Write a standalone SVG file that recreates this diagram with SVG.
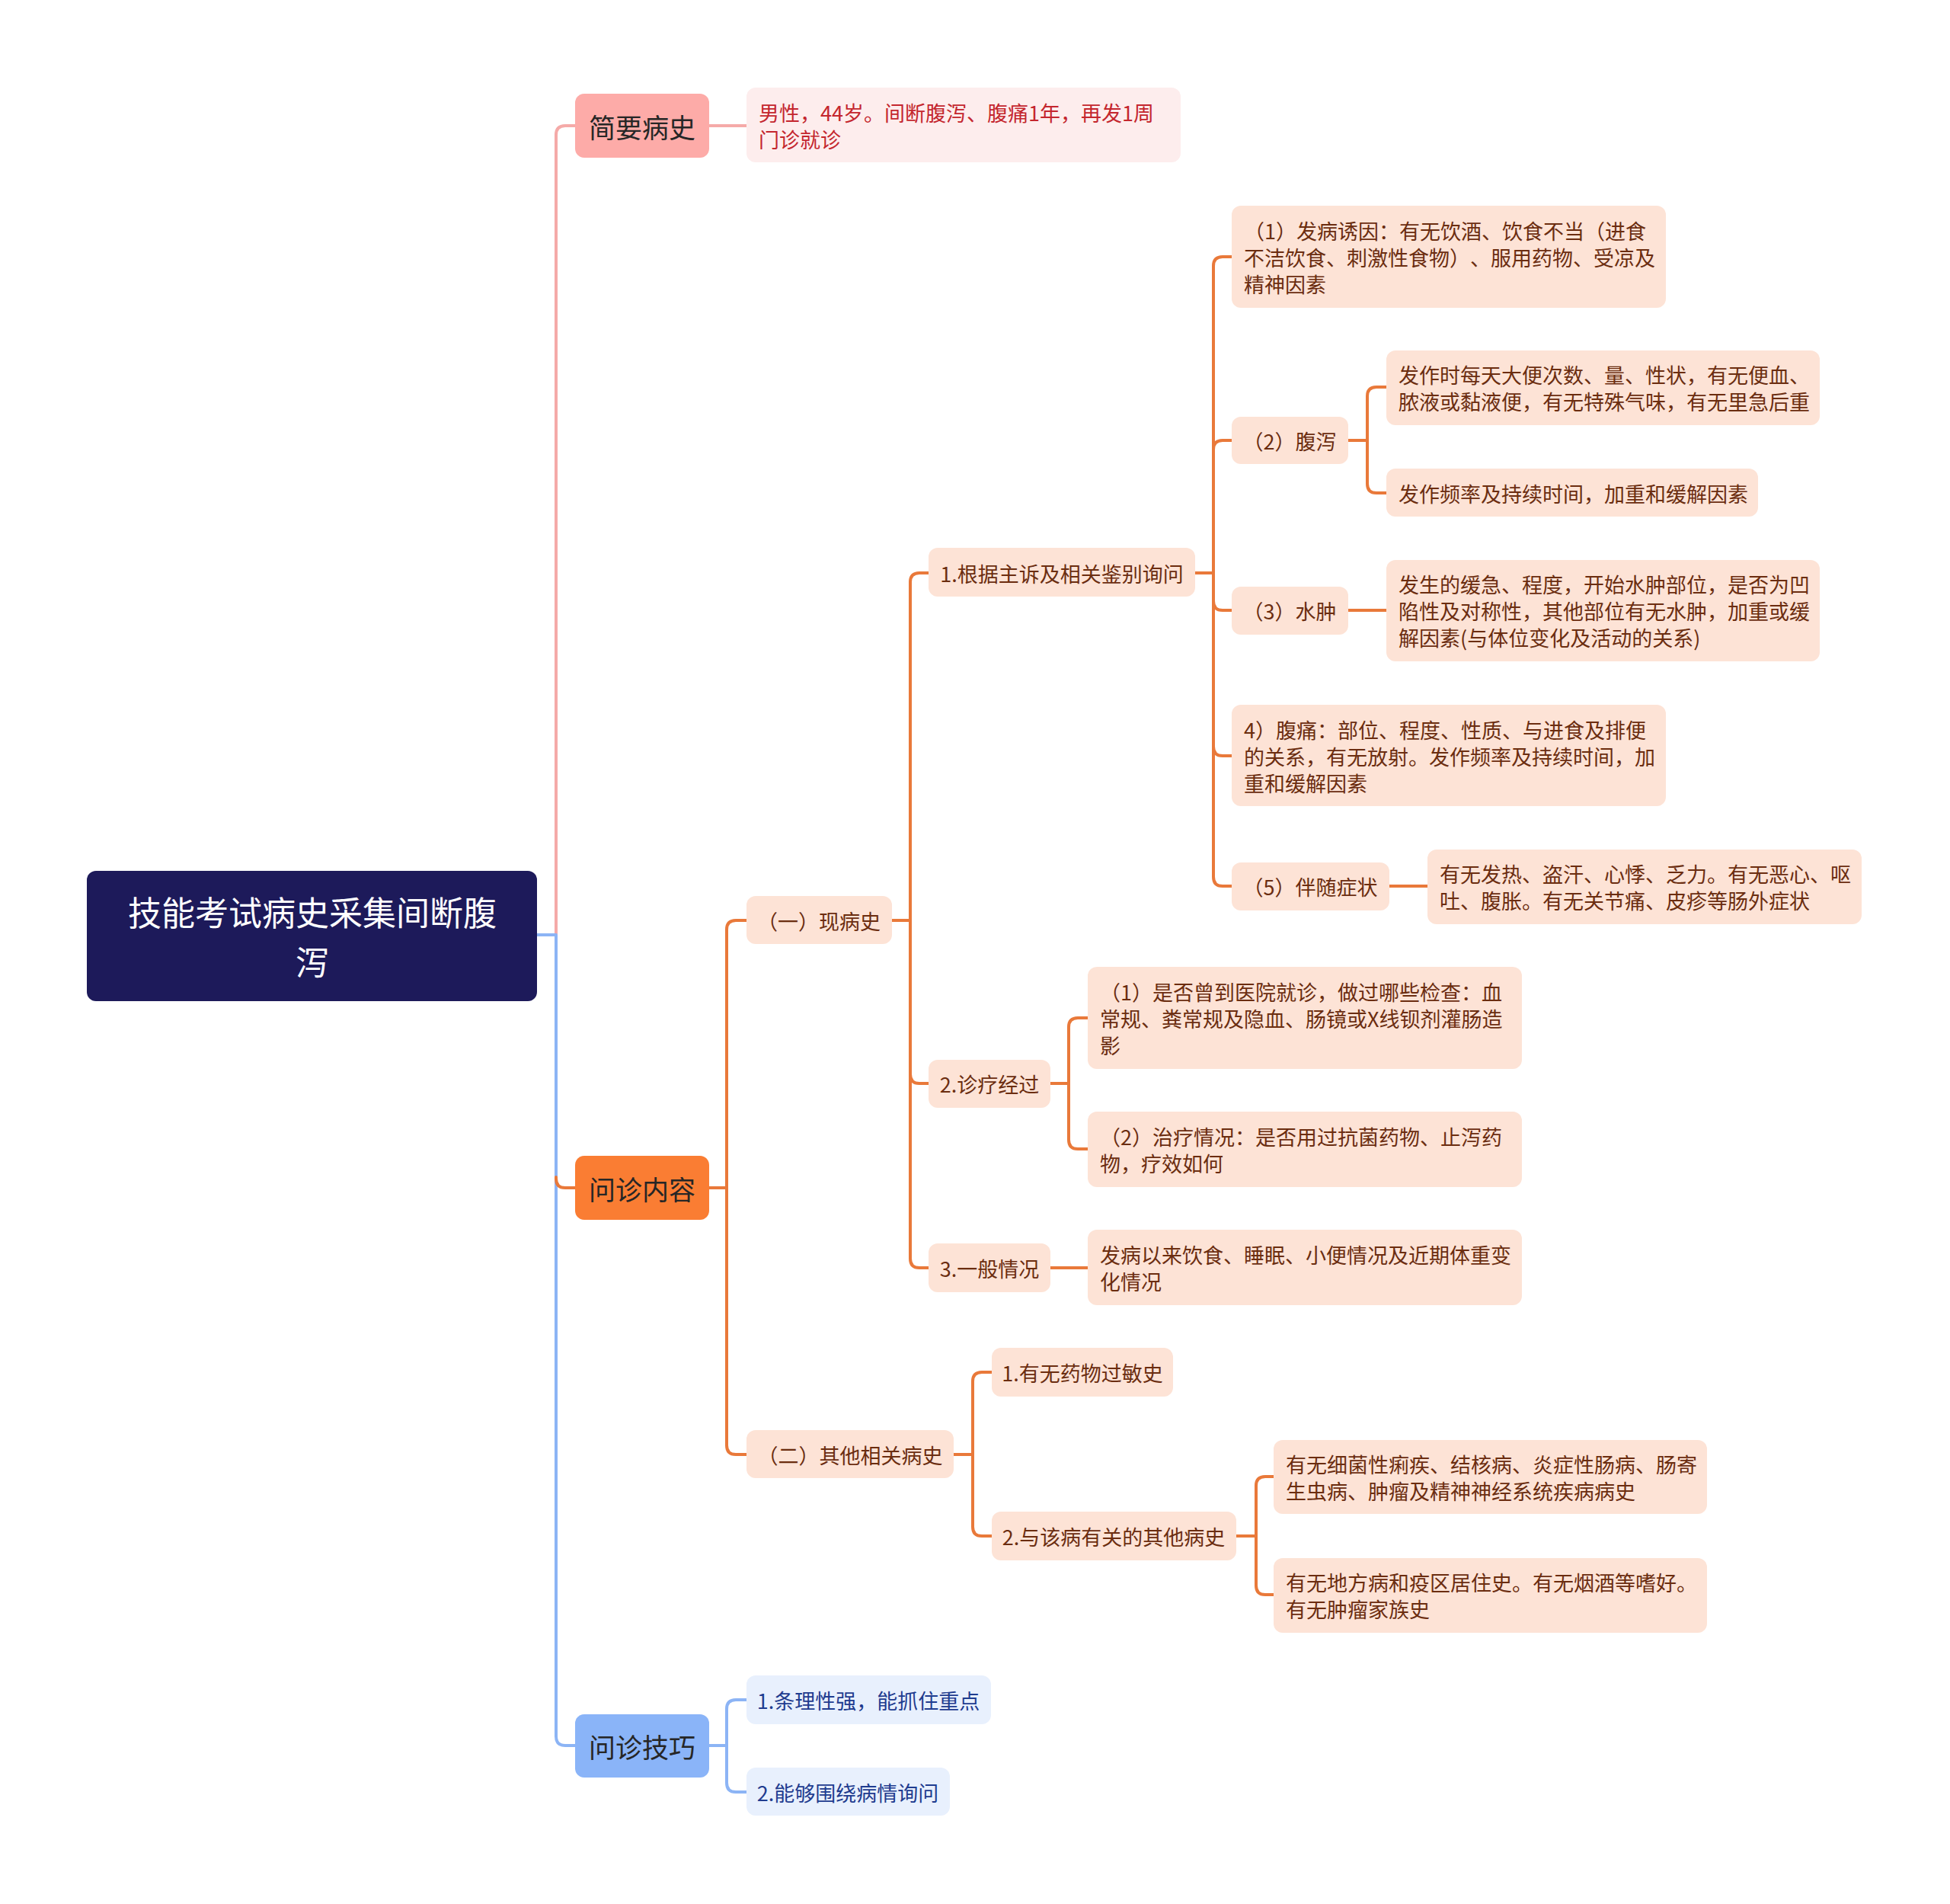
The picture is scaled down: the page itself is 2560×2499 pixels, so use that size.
<svg xmlns="http://www.w3.org/2000/svg" width="2560" height="2499" viewBox="0 0 2560 2499">
<style>
text{font-family:"Noto Sans CJK SC","Noto Sans",sans-serif;text-spacing-trim:space-all;font-feature-settings:"chws" 0,"halt" 0;}
.c{fill:none;stroke-width:4;stroke-linecap:round;stroke-linejoin:round;}
.co{stroke:#e9793a;}
.cp{stroke:#f5aaa8;}
.cb{stroke:#8cb4f5;}
.pe{fill:#fde3d6;}
.pt{font-size:27px;fill:#6b2d10;dominant-baseline:central;}
.l1{font-size:35px;fill:#262626;dominant-baseline:central;text-anchor:middle;}
.m{text-anchor:middle;}
.bt{font-size:27px;fill:#1f3c8f;dominant-baseline:central;}
.rt{font-size:27px;fill:#c4262e;dominant-baseline:central;}
.root{font-size:44px;fill:#ffffff;text-anchor:middle;dominant-baseline:central;}
</style>
<rect width="2560" height="2499" fill="#ffffff"/>

<g id="connectors">
  <path class="c cp" d="M730 1227 V177 Q730 165 742 165 H755"/>
  <path class="c cb" d="M705 1227 H730 V2279 Q730 2291 742 2291 H755"/>
  <path class="c co" d="M730 1545 V1547 Q730 1559 742 1559 H755"/>
  <path class="c cp" d="M931 165 H980"/>
  <path class="c co" d="M931 1559 H954 V1220 Q954 1208 966 1208 H980"/>
  <path class="c co" d="M931 1559 H954 V1897 Q954 1909 966 1909 H980"/>
  <path class="c cb" d="M931 2291 H954 V2243 Q954 2231 966 2231 H980"/>
  <path class="c cb" d="M931 2291 H954 V2340 Q954 2352 966 2352 H980"/>
  <path class="c co" d="M1171 1208 H1195 V764 Q1195 752 1207 752 H1219"/>
  <path class="c co" d="M1171 1208 H1195 V1410 Q1195 1422 1207 1422 H1219"/>
  <path class="c co" d="M1171 1208 H1195 V1652 Q1195 1664 1207 1664 H1219"/>
  <path class="c co" d="M1569 752 H1593 V349 Q1593 337 1605 337 H1617"/>
  <path class="c co" d="M1569 752 H1593 V590 Q1593 578 1605 578 H1617"/>
  <path class="c co" d="M1569 752 H1593 V789 Q1593 801 1605 801 H1617"/>
  <path class="c co" d="M1569 752 H1593 V980 Q1593 992 1605 992 H1617"/>
  <path class="c co" d="M1569 752 H1593 V1151 Q1593 1163 1605 1163 H1617"/>
  <path class="c co" d="M1770 578 H1795 V520 Q1795 508 1807 508 H1820"/>
  <path class="c co" d="M1770 578 H1795 V635 Q1795 647 1807 647 H1820"/>
  <path class="c co" d="M1770 801 H1820"/>
  <path class="c co" d="M1824 1163 H1874"/>
  <path class="c co" d="M1379 1422 H1403 V1348 Q1403 1336 1415 1336 H1428"/>
  <path class="c co" d="M1379 1422 H1403 V1496 Q1403 1508 1415 1508 H1428"/>
  <path class="c co" d="M1379 1664 H1428"/>
  <path class="c co" d="M1251 1909 H1277 V1813 Q1277 1801 1289 1801 H1302"/>
  <path class="c co" d="M1251 1909 H1277 V2004 Q1277 2016 1289 2016 H1302"/>
  <path class="c co" d="M1623 2016 H1649 V1950 Q1649 1938 1661 1938 H1672"/>
  <path class="c co" d="M1623 2016 H1649 V2081 Q1649 2093 1661 2093 H1672"/>
</g>

<g id="root">
  <rect x="114" y="1143" width="591" height="171" rx="12" fill="#1d1a5a"/>
  <text class="root" x="410" y="1196">技能考试病史采集间断腹</text>
  <text class="root" x="410" y="1261">泻</text>
</g>

<g id="n-jybs">
  <rect x="755" y="123" width="176" height="84" rx="12" fill="#fdaba8"/>
  <text class="l1" x="843" y="165">简要病史</text>
</g>
<g id="n-jybs-d">
  <rect x="980" y="115" width="570" height="98" rx="12" fill="#fdeded"/>
  <text class="rt" x="996" y="147">男性，44岁。间断腹泻、腹痛1年，再发1周</text>
  <text class="rt" x="996" y="182">门诊就诊</text>
</g>

<g id="n-wznr">
  <rect x="755" y="1517" width="176" height="84" rx="12" fill="#fa7d33"/>
  <text class="l1" x="843" y="1559">问诊内容</text>
</g>
<g id="n-wzjq">
  <rect x="755" y="2250" width="176" height="83" rx="12" fill="#8ab4f8"/>
  <text class="l1" x="843" y="2291">问诊技巧</text>
</g>

<g id="n-xbs">
  <rect class="pe" x="980" y="1176" width="191" height="63" rx="12"/>
  <text class="pt m" x="1075" y="1208">（一）现病史</text>
</g>
<g id="n-qt">
  <rect class="pe" x="980" y="1877" width="272" height="63" rx="12"/>
  <text class="pt m" x="1116" y="1909">（二）其他相关病史</text>
</g>

<g id="n-gj">
  <rect class="pe" x="1219" y="719" width="350" height="64" rx="12"/>
  <text class="pt m" x="1394" y="752">1.根据主诉及相关鉴别询问</text>
</g>
<g id="n-zl">
  <rect class="pe" x="1219" y="1391" width="160" height="63" rx="12"/>
  <text class="pt m" x="1299" y="1422">2.诊疗经过</text>
</g>
<g id="n-yb">
  <rect class="pe" x="1219" y="1632" width="160" height="64" rx="12"/>
  <text class="pt m" x="1299" y="1664">3.一般情况</text>
</g>

<g id="n-fbyy">
  <rect class="pe" x="1617" y="270" width="570" height="134" rx="12"/>
  <text class="pt" x="1633" y="302">（1）发病诱因：有无饮酒、饮食不当（进食</text>
  <text class="pt" x="1633" y="337">不洁饮食、刺激性食物）、服用药物、受凉及</text>
  <text class="pt" x="1633" y="372">精神因素</text>
</g>
<g id="n-fx">
  <rect class="pe" x="1617" y="547" width="153" height="62" rx="12"/>
  <text class="pt m" x="1693" y="578">（2）腹泻</text>
</g>
<g id="n-fx-a">
  <rect class="pe" x="1820" y="460" width="569" height="98" rx="12"/>
  <text class="pt" x="1836" y="491">发作时每天大便次数、量、性状，有无便血、</text>
  <text class="pt" x="1836" y="526">脓液或黏液便，有无特殊气味，有无里急后重</text>
</g>
<g id="n-fx-b">
  <rect class="pe" x="1820" y="615" width="488" height="63" rx="12"/>
  <text class="pt" x="1836" y="647">发作频率及持续时间，加重和缓解因素</text>
</g>
<g id="n-sz">
  <rect class="pe" x="1617" y="770" width="153" height="63" rx="12"/>
  <text class="pt m" x="1693" y="801">（3）水肿</text>
</g>
<g id="n-sz-d">
  <rect class="pe" x="1820" y="735" width="569" height="133" rx="12"/>
  <text class="pt" x="1836" y="766">发生的缓急、程度，开始水肿部位，是否为凹</text>
  <text class="pt" x="1836" y="801">陷性及对称性，其他部位有无水肿，加重或缓</text>
  <text class="pt" x="1836" y="836">解因素(与体位变化及活动的关系)</text>
</g>
<g id="n-ft">
  <rect class="pe" x="1617" y="925" width="570" height="133" rx="12"/>
  <text class="pt" x="1633" y="957">4）腹痛：部位、程度、性质、与进食及排便</text>
  <text class="pt" x="1633" y="992">的关系，有无放射。发作频率及持续时间，加</text>
  <text class="pt" x="1633" y="1027">重和缓解因素</text>
</g>
<g id="n-bs">
  <rect class="pe" x="1617" y="1132" width="207" height="63" rx="12"/>
  <text class="pt m" x="1720" y="1163">（5）伴随症状</text>
</g>
<g id="n-bs-d">
  <rect class="pe" x="1874" y="1115" width="570" height="98" rx="12"/>
  <text class="pt" x="1890" y="1146">有无发热、盗汗、心悸、乏力。有无恶心、呕</text>
  <text class="pt" x="1890" y="1181">吐、腹胀。有无关节痛、皮疹等肠外症状</text>
</g>

<g id="n-zl1">
  <rect class="pe" x="1428" y="1269" width="570" height="134" rx="12"/>
  <text class="pt" x="1444" y="1301">（1）是否曾到医院就诊，做过哪些检查：血</text>
  <text class="pt" x="1444" y="1336">常规、粪常规及隐血、肠镜或X线钡剂灌肠造</text>
  <text class="pt" x="1444" y="1371">影</text>
</g>
<g id="n-zl2">
  <rect class="pe" x="1428" y="1459" width="570" height="99" rx="12"/>
  <text class="pt" x="1444" y="1491">（2）治疗情况：是否用过抗菌药物、止泻药</text>
  <text class="pt" x="1444" y="1526">物，疗效如何</text>
</g>
<g id="n-yb-d">
  <rect class="pe" x="1428" y="1614" width="570" height="99" rx="12"/>
  <text class="pt" x="1444" y="1646">发病以来饮食、睡眠、小便情况及近期体重变</text>
  <text class="pt" x="1444" y="1681">化情况</text>
</g>

<g id="n-gm">
  <rect class="pe" x="1302" y="1769" width="238" height="64" rx="12"/>
  <text class="pt m" x="1421" y="1801">1.有无药物过敏史</text>
</g>
<g id="n-qtbs">
  <rect class="pe" x="1302" y="1984" width="321" height="64" rx="12"/>
  <text class="pt m" x="1462" y="2016">2.与该病有关的其他病史</text>
</g>
<g id="n-qt-a">
  <rect class="pe" x="1672" y="1890" width="569" height="97" rx="12"/>
  <text class="pt" x="1688" y="1921">有无细菌性痢疾、结核病、炎症性肠病、肠寄</text>
  <text class="pt" x="1688" y="1956">生虫病、肿瘤及精神神经系统疾病病史</text>
</g>
<g id="n-qt-b">
  <rect class="pe" x="1672" y="2045" width="569" height="98" rx="12"/>
  <text class="pt" x="1688" y="2076">有无地方病和疫区居住史。有无烟酒等嗜好。</text>
  <text class="pt" x="1688" y="2111">有无肿瘤家族史</text>
</g>

<g id="n-jq1">
  <rect x="980" y="2199" width="321" height="64" rx="12" fill="#e8f0fd"/>
  <text class="bt m" x="1140" y="2231">1.条理性强，能抓住重点</text>
</g>
<g id="n-jq2">
  <rect x="980" y="2320" width="267" height="63" rx="12" fill="#e8f0fd"/>
  <text class="bt m" x="1113" y="2352">2.能够围绕病情询问</text>
</g>
</svg>
